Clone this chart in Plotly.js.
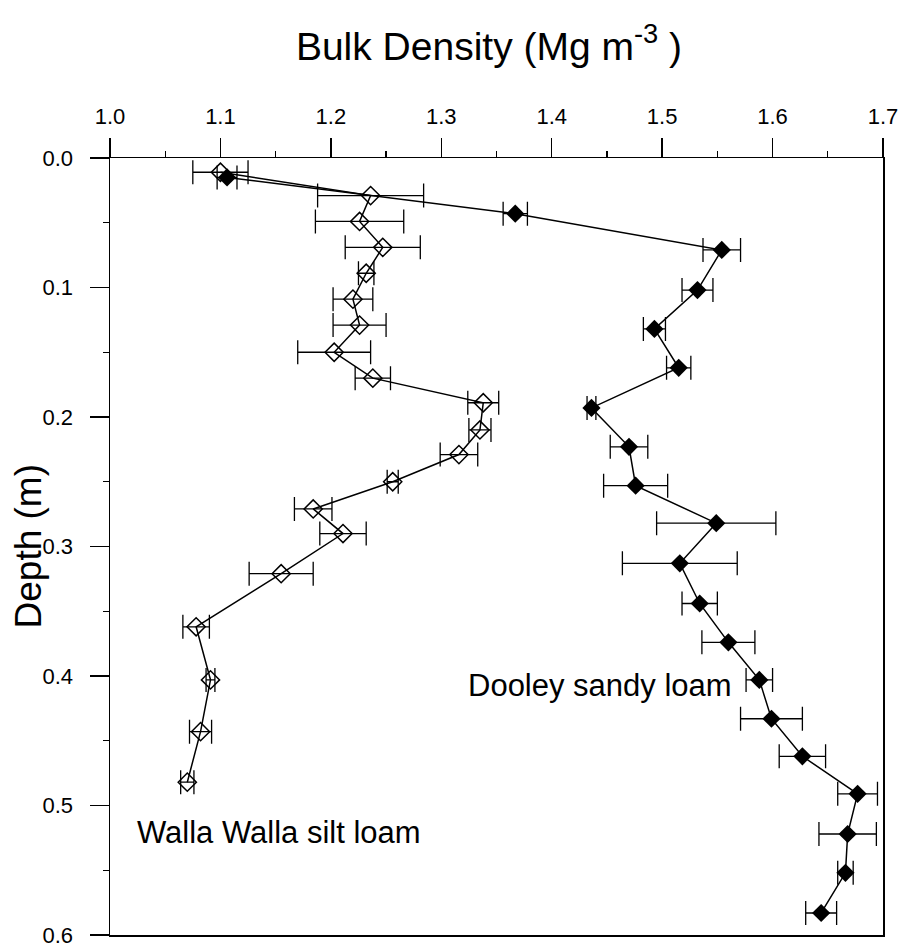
<!DOCTYPE html>
<html>
<head>
<meta charset="utf-8">
<script src="https://cdn.plot.ly/plotly-3.0.1.min.js"></script>
<style>
  html, body { margin: 0; padding: 0; background: #ffffff; }
  #chart { width: 900px; height: 948px; }
</style>
</head>
<body>
<div id="chart"></div>
<script>
// Walla Walla silt loam (open diamonds)
const wallaDepth = [0.011, 0.029, 0.049, 0.069, 0.089, 0.109, 0.129, 0.150, 0.170, 0.189, 0.210, 0.229, 0.250, 0.271, 0.290, 0.321, 0.362, 0.403, 0.443, 0.482];
const wallaBD    = [1.100, 1.236, 1.226, 1.247, 1.232, 1.220, 1.226, 1.203, 1.238, 1.338, 1.335, 1.316, 1.256, 1.184, 1.211, 1.155, 1.078, 1.091, 1.082, 1.070];
const wallaErr   = [0.025, 0.048, 0.040, 0.034, 0.007, 0.018, 0.024, 0.033, 0.016, 0.014, 0.010, 0.017, 0.005, 0.017, 0.021, 0.029, 0.012, 0.004, 0.010, 0.006];

// Dooley sandy loam (filled diamonds)
const dooleyDepth = [0.015, 0.043, 0.071, 0.102, 0.132, 0.162, 0.193, 0.223, 0.253, 0.282, 0.313, 0.344, 0.374, 0.403, 0.433, 0.462, 0.491, 0.522, 0.552, 0.583];
const dooleyBD    = [1.106, 1.367, 1.554, 1.532, 1.493, 1.515, 1.436, 1.470, 1.476, 1.549, 1.516, 1.534, 1.560, 1.588, 1.599, 1.627, 1.677, 1.668, 1.666, 1.644];
const dooleyErr   = [0.009, 0.011, 0.017, 0.014, 0.010, 0.011, 0.004, 0.017, 0.029, 0.054, 0.052, 0.016, 0.024, 0.012, 0.028, 0.021, 0.018, 0.026, 0.007, 0.014];

const xTickVals = [1.0, 1.1, 1.2, 1.3, 1.4, 1.5, 1.6, 1.7];
const xTickText = ['1.0', '1.1', '1.2', '1.3', '1.4', '1.5', '1.6', '1.7'];
const yTickVals = [0.0, 0.1, 0.2, 0.3, 0.4, 0.5, 0.6];
const yTickText = ['0.0', '0.1', '0.2', '0.3', '0.4', '0.5', '0.6'];

const FONT = 'Liberation Sans, Arial, Helvetica, sans-serif';

const errStyle = { type: 'data', symmetric: true, color: '#000', thickness: 1.3, width: 12 };

const traces = [
  {
    name: 'Walla Walla silt loam',
    x: wallaBD, y: wallaDepth,
    type: 'scatter', mode: 'lines+markers',
    line: { color: '#000', width: 1.5 },
    marker: { symbol: 'diamond-open', size: 14, color: '#000', line: { color: '#000', width: 1.5 } },
    error_x: Object.assign({ array: wallaErr }, errStyle),
    showlegend: false
  },
  {
    name: 'Dooley sandy loam',
    x: dooleyBD, y: dooleyDepth,
    type: 'scatter', mode: 'lines+markers',
    line: { color: '#000', width: 1.5 },
    marker: { symbol: 'diamond', size: 14, color: '#000' },
    error_x: Object.assign({ array: dooleyErr }, errStyle),
    showlegend: false
  }
];

const layout = {
  width: 900, height: 948,
  margin: { l: 110, r: 17, t: 158, b: 13 },
  paper_bgcolor: '#fff', plot_bgcolor: '#fff',
  font: { family: FONT, color: '#000', size: 22 },
  title: {
    text: 'Bulk Density (Mg m<sup>-3</sup> )',
    font: { family: FONT, size: 39, color: '#000' },
    x: 489 / 900, xanchor: 'center', xref: 'container',
    y: 1 - 46 / 948, yanchor: 'middle', yref: 'container'
  },
  xaxis: {
    side: 'top',
    range: [1.0, 1.7],
    tickvals: xTickVals, ticktext: xTickText,
    ticks: 'outside', ticklen: 19, tickwidth: 1.5, tickcolor: '#000',
    minor: { dtick: 0.05, ticks: 'outside', ticklen: 6, tickwidth: 1.3, tickcolor: '#000', showgrid: false },
    ticklabelstandoff: 5,
    tickfont: { family: FONT, size: 22, color: '#000' },
    showline: true, linecolor: '#000', linewidth: 1.5, mirror: true,
    showgrid: false, zeroline: false
  },
  yaxis: {
    range: [0.6, 0.0],
    tickvals: yTickVals, ticktext: yTickText,
    ticks: 'outside', ticklen: 19, tickwidth: 1.5, tickcolor: '#000',
    minor: { dtick: 0.05, ticks: 'outside', ticklen: 6, tickwidth: 1.3, tickcolor: '#000', showgrid: false },
    ticklabelstandoff: 12,
    tickfont: { family: FONT, size: 22, color: '#000' },
    showline: true, linecolor: '#000', linewidth: 1.5, mirror: true,
    showgrid: false, zeroline: false
  },
  annotations: [
    {
      text: 'Depth (m)', x: (28 - 110) / 773, y: 0.5, xref: 'paper', yref: 'paper',
      xanchor: 'center', yanchor: 'middle', textangle: -90, showarrow: false,
      font: { family: FONT, size: 37, color: '#000' }
    },
    {
      text: 'Dooley sandy loam', x: 1.3226, y: 0.407, xref: 'x', yref: 'y',
      xanchor: 'left', yanchor: 'middle', showarrow: false,
      font: { family: FONT, size: 31, color: '#000' }
    },
    {
      text: 'Walla Walla silt loam', x: 1.023, y: 0.5205, xref: 'x', yref: 'y',
      xanchor: 'left', yanchor: 'middle', showarrow: false,
      font: { family: FONT, size: 31, color: '#000' }
    }
  ]
};

Plotly.newPlot('chart', traces, layout, { displayModeBar: false, staticPlot: true });
</script>
</body>
</html>
